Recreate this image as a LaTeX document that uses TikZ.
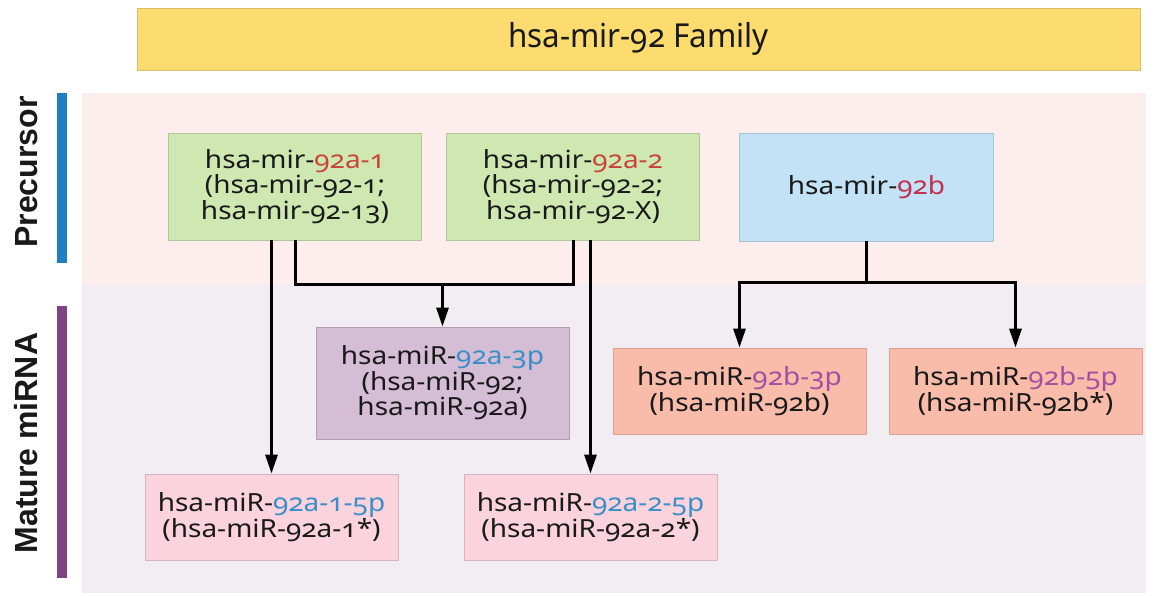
\documentclass[tikz,border=0pt]{standalone}
\usepackage{fontspec}
\usetikzlibrary{arrows.meta,calc}
\newfontfamily\boxfont[Numbers=OldStyle,FakeStretch=1.12]{Noto Sans}
\newfontfamily\ttlfont[Numbers=OldStyle,FakeStretch=0.95]{Noto Sans}
\newfontfamily\labfont{Liberation Sans}
\definecolor{bandpink}{HTML}{FDEDED}
\definecolor{bandlav}{HTML}{F1EDF3}
\definecolor{ttlfill}{HTML}{FDDC6F}
\definecolor{ttldraw}{HTML}{D6BE6A}
\definecolor{barblue}{HTML}{1F7FBF}
\definecolor{barpurple}{HTML}{7D4384}
\definecolor{gfill}{HTML}{CFE8B2}
\definecolor{gdraw}{HTML}{AFC899}
\definecolor{bfill}{HTML}{C3E2F5}
\definecolor{bdraw}{HTML}{A3C2D3}
\definecolor{pfill}{HTML}{D5BDD5}
\definecolor{pdraw}{HTML}{B39BB3}
\definecolor{kfill}{HTML}{FBD3DD}
\definecolor{kdraw}{HTML}{D9B3BD}
\definecolor{sfill}{HTML}{F9BBAA}
\definecolor{sdraw}{HTML}{D9A293}
\definecolor{hlred}{HTML}{C8453A}
\definecolor{hlcrim}{HTML}{C2304F}
\definecolor{hlblue}{HTML}{3B8FC6}
\definecolor{hlpurp}{HTML}{A2509F}
\tikzset{
  box/.style={rectangle, line width=0.8pt, align=center, inner sep=0pt,
    font=\boxfont\fontsize{25}{25.5}\selectfont, text=black!90},
  gbox/.style={box, fill=gfill, draw=gdraw, minimum width=253pt, minimum height=107pt},
  bbox/.style={box, fill=bfill, draw=bdraw, minimum width=254pt, minimum height=108pt},
  pbox/.style={box, fill=pfill, draw=pdraw, minimum width=253pt, minimum height=112pt},
  kbox/.style={box, fill=kfill, draw=kdraw, minimum width=253pt, minimum height=86pt},
  sbox/.style={box, fill=sfill, draw=sdraw, minimum width=253pt, minimum height=86pt},
  conn/.style={line width=3pt, black},
  arr/.style={conn, -{Triangle[length=19pt,width=12pt]}},
  sidelab/.style={rotate=90, inner sep=0pt, font=\labfont\bfseries\fontsize{32}{32}\selectfont, text=black!90},
}
\begin{document}
\begin{tikzpicture}[x=1pt,y=-1pt]
\useasboundingbox (0,0) rectangle (1155,596);
\fill[white] (0,0) rectangle (1155,596);
% bands
\fill[bandpink] (82,93) rectangle (1146,285);
\fill[bandlav] (82,285) rectangle (1146,593);
\fill[barblue] (57,93) rectangle (67,263);
\fill[barpurple] (57,306) rectangle (67,578);
\node[sidelab] (prec) at (26.5,172) {Precursor};
\node[sidelab] (mat) at (26.5,443) {Mature miRNA};
% title
\node[rectangle, fill=ttlfill, draw=ttldraw, line width=0.8pt, minimum width=1003pt, minimum height=62pt, inner sep=0pt,
  font=\ttlfont\fontsize{33}{33}\selectfont, text=black!90] (ttl) at (638.5,39) {hsa-mir-92 Family};
% precursors
\node[gbox] (A1) at (295,186.5) {hsa-mir-\textcolor{hlred}{92a-1}\\(hsa-mir-92-1;\\hsa-mir-92-13)};
\node[gbox] (A2) at (573,186.5) {hsa-mir-\textcolor{hlred}{92a-2}\\(hsa-mir-92-2;\\hsa-mir-92-X)};
\node[bbox] (B) at (866.5,187) {hsa-mir-\textcolor{hlcrim}{92b}};
% matures
\node[pbox] (M3) at (442.5,383) {hsa-miR-\textcolor{hlblue}{92a-3p}\\(hsa-miR-92;\\hsa-miR-92a)};
\node[kbox] (M15) at (271.5,517) {hsa-miR-\textcolor{hlblue}{92a-1-5p}\\(hsa-miR-92a-1*)};
\node[kbox] (M25) at (590.5,517) {hsa-miR-\textcolor{hlblue}{92a-2-5p}\\(hsa-miR-92a-2*)};
\node[sbox] (B3) at (739.5,391) {hsa-miR-\textcolor{hlpurp}{92b-3p}\\(hsa-miR-92b)};
\node[sbox] (B5) at (1015.5,391) {hsa-miR-\textcolor{hlpurp}{92b-5p}\\(hsa-miR-92b*)};
% connectors
\coordinate (jA) at ($(A1.south)+(0,44)$);
\draw[conn] (A1.south) -- (jA) -| (A2.south);
\draw[arr] (jA -| M3.north) -- (M3.north);
\draw[arr] (M15.north |- A1.south) -- (M15.north);
\draw[arr] (M25.north |- A2.south) -- (M25.north);
\coordinate (jB) at ($(B.south)+(0,41)$);
\draw[arr] (B.south) -- (jB) -| (B3.north);
\draw[arr] (jB) -| (B5.north);
\end{tikzpicture}
\end{document}
